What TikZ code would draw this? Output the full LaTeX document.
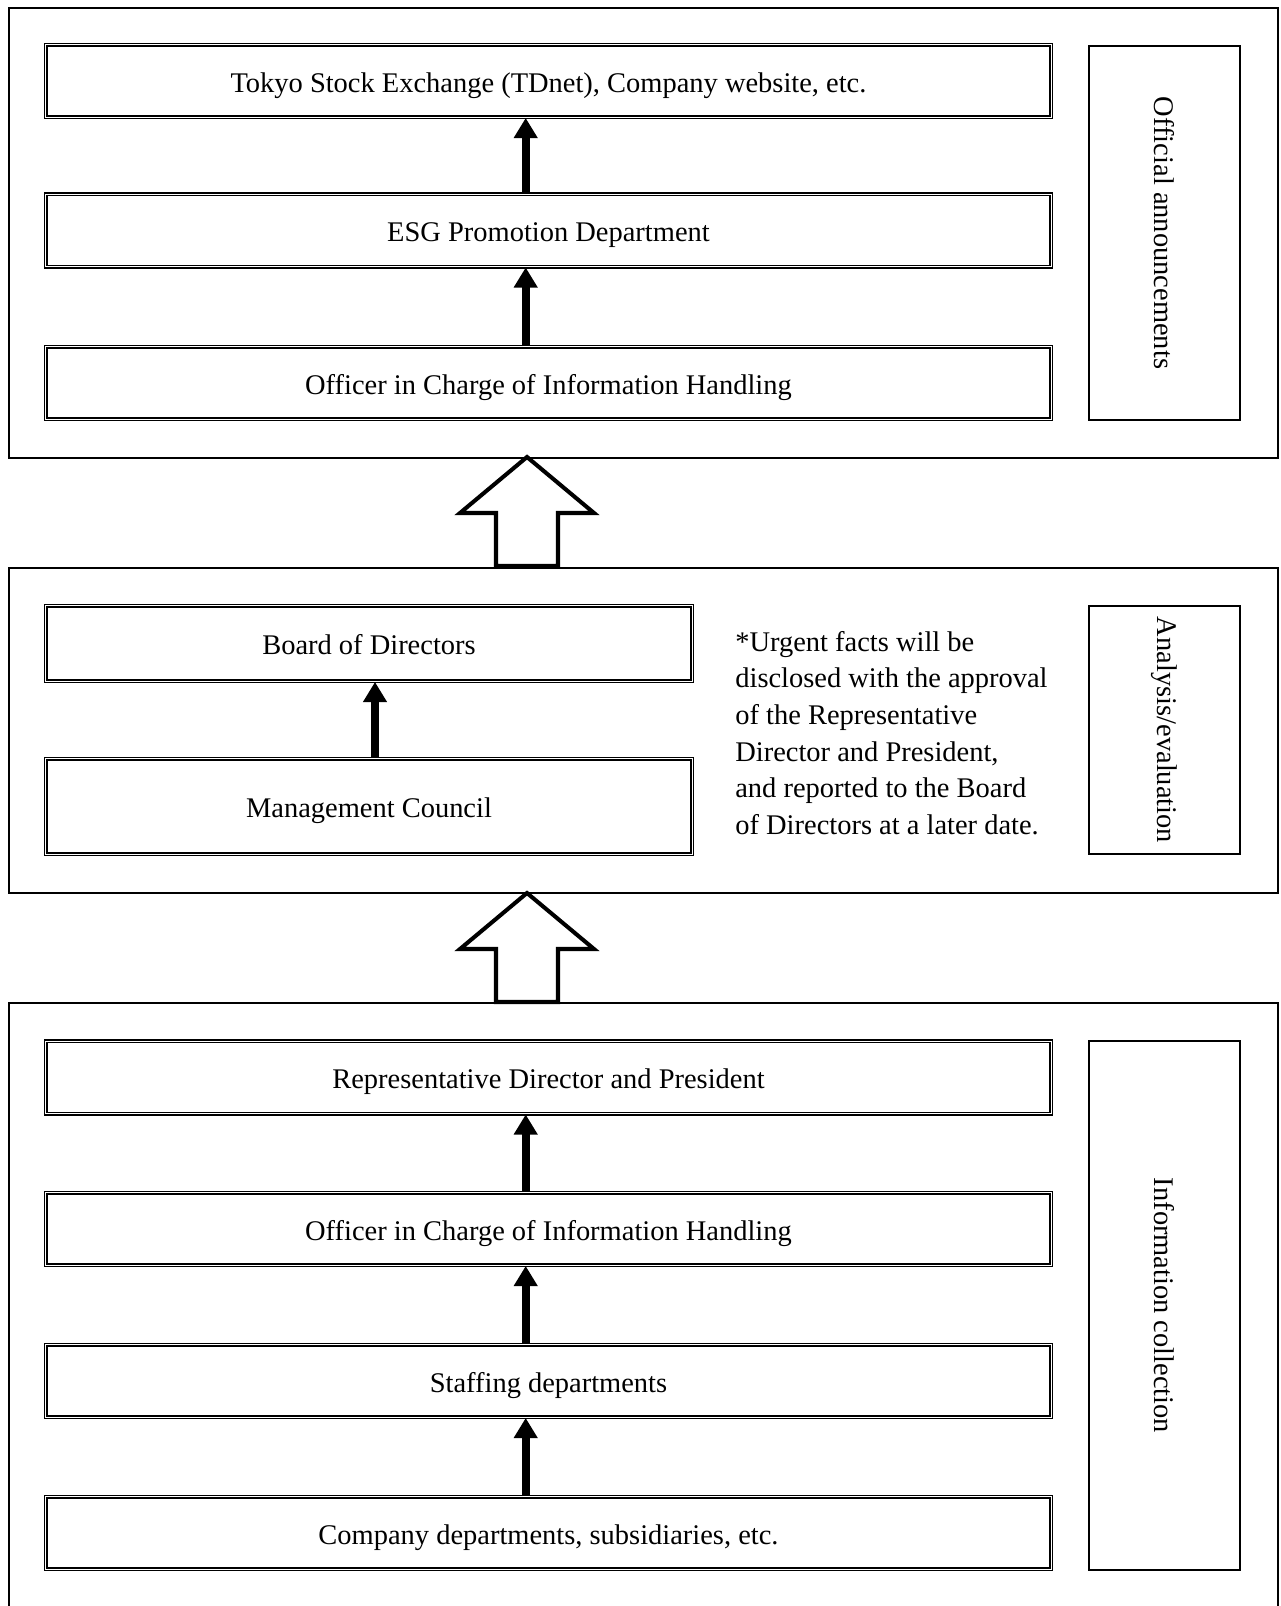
\documentclass[tikz,border=0pt]{standalone}
\usepackage{fontspec}
\setmainfont{Liberation Serif}
\usetikzlibrary{arrows.meta}

\tikzset{
  dbox/.style={draw, double, line width=.8pt, double distance=.5pt,
    minimum width=20.11cm, minimum height=1.45cm, inner sep=0pt,
    text height=15pt, text depth=2pt},
  sidebox/.style={draw, line width=1.1pt, rotate=-90, minimum height=3.02cm, inner sep=0pt},
  panel/.style={line width=1.1pt},
  uparrow/.style={line width=4.5pt, -{Triangle[length=11.5pt,width=13pt]}},
  hollow/.style={line width=2.3pt},
}

\begin{document}
\begin{tikzpicture}[x=0.02cm, y=-0.02cm, font=\fontsize{16.2pt}{20.8pt}\selectfont]
      \useasboundingbox (0,0) rectangle (1281,1606);

      \coordinate (ax) at (525.7,0);
      \coordinate (bx) at (375,0);

      % official announcements
      \draw[panel] (9,8) rectangle (1278,458);

      \node[dbox] (tse)  at (548.5,81)  {Tokyo Stock Exchange (TDnet), Company website, etc.};
      \node[dbox] (esg)  at (548.5,230.5) {ESG Promotion Department};
      \node[dbox] (oih1) at (548.5,383) {Officer in Charge of Information Handling};
      \node[sidebox, minimum width=7.48cm] (offann) at (1164.5,233) {Official announcements};

      \draw[uparrow] (esg.north -| ax) -- (tse.south -| ax);
      \draw[uparrow] (oih1.north -| ax) -- (esg.south -| ax);

      \coordinate (up1) at (527,457);
      \draw[hollow] (up1) -- ++(67,56) -- ++(-36,0) -- ++(0,53) -- ++(-62,0) -- ++(0,-53) -- ++(-36,0) -- cycle;

      % analysis / evaluation
      \draw[panel] (9,568) rectangle (1278,893);

      \node[dbox, minimum width=12.93cm, minimum height=1.51cm] (bod) at (369,643.5) {Board of Directors};
      \node[dbox, minimum width=12.93cm, minimum height=1.91cm] (mc)  at (369,806.5) {Management Council};
      \draw[uparrow] (mc.north -| bx) -- (bod.south -| bx);

      \node[anchor=north west, align=left, inner sep=0pt] (note) at (735,631)
        {*Urgent facts will be\\disclosed with the approval\\of the Representative\\Director and President,\\and reported to the Board\\of Directors at a later date.};
      \node[sidebox, minimum width=4.96cm] (anaeval) at (1164.5,730) {Analysis/evaluation};

      \coordinate (up2) at (527,893);
      \draw[hollow] (up2) -- ++(67,56) -- ++(-36,0) -- ++(0,53) -- ++(-62,0) -- ++(0,-53) -- ++(-36,0) -- cycle;

      % information collection
      \draw[panel] (9,1620) |- (1278,1003) -- (1278,1620);

      \node[dbox] (rep)   at (548.5,1077.5) {Representative Director and President};
      \node[dbox] (oih2)  at (548.5,1229)   {Officer in Charge of Information Handling};
      \node[dbox] (staff) at (548.5,1381)   {Staffing departments};
      \node[dbox] (comp)  at (548.5,1533)   {Company departments, subsidiaries, etc.};
      \node[sidebox, minimum width=10.58cm] (infocol) at (1164.5,1305.5) {Information collection};

      \draw[uparrow] (oih2.north -| ax)  -- (rep.south -| ax);
      \draw[uparrow] (staff.north -| ax) -- (oih2.south -| ax);
      \draw[uparrow] (comp.north -| ax)  -- (staff.south -| ax);
\end{tikzpicture}
\end{document}
